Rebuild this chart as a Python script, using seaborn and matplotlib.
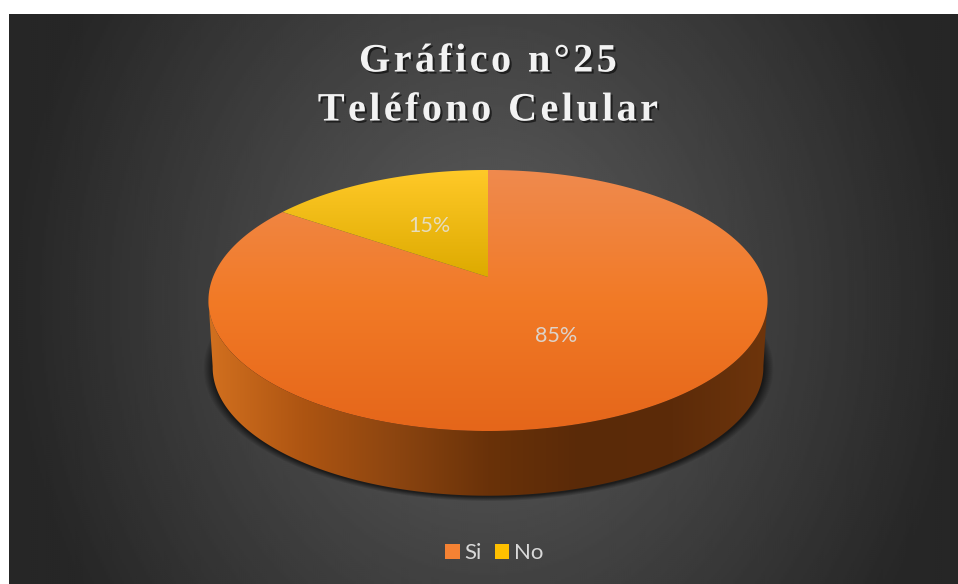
import numpy as np
import matplotlib
matplotlib.use('Agg')
import matplotlib.pyplot as plt
import matplotlib.patheffects as pe
from matplotlib.colors import LinearSegmentedColormap
from matplotlib.patches import Patch, Polygon
import seaborn as sns

# datos
categorias = ['Si', 'No']
porcentajes = [84.6, 15.4]
titulo = ['Gráfico n°25', 'Teléfono Celular']

sns.set_theme(style='dark')
plt.rcParams['font.family'] = ['Lato', 'DejaVu Sans']

W, H = 958, 584
colores = sns.color_palette(['#F58233', '#FFC000'])

fig = plt.figure(figsize=(W / 100, H / 100), dpi=100, facecolor='white')
ax = fig.add_axes([0, 0, 1, 1])

wedges, _, autotexts = ax.pie(porcentajes, colors=colores, startangle=90, counterclock=False,
                              autopct='%.0f%%', pctdistance=0.49)
ax.set_aspect('auto')
ax.set_xlim(0, W)
ax.set_ylim(H, 0)
ax.axis('off')


# circulo unitario -> elipse en perspectiva
def proyectar(x, y, caida=0.0, escala=1.0):
    w = 1 + 0.18 * y
    return 488 + 275 * escala * x / w, 277 + caida - 126.3 * escala * y / w


def borde(t1, t2, caida=0.0, escala=1.0):
    t = np.radians(np.linspace(t1, t2, 240))
    return np.column_stack(proyectar(np.cos(t), np.sin(t), caida, escala))


def gradiente(puntos, cmap, extent, vertical=True):
    g = np.linspace(0, 1, 256)
    g = g[:, None] if vertical else g[None, :]
    im = ax.imshow(g, cmap=cmap, extent=extent, aspect='auto', zorder=3, interpolation='bilinear')
    clip = Polygon(puntos, closed=True, transform=ax.transData)
    im.set_clip_path(clip)
    return im


# fondo radial
xx, yy = np.meshgrid(np.linspace(9, W, 475), np.linspace(14, H, 285))
r = np.sqrt((xx - 488) ** 2 + ((yy - 300) * 0.85) ** 2) / 480
fondo = np.clip(0x5e - 56 * r, 0x26, 255)
ax.imshow(fondo, cmap='gray', vmin=0, vmax=255, extent=(9, W, H, 14), aspect='auto',
          zorder=0, interpolation='bilinear')

# sombra bajo la pared
xx, yy = np.meshgrid(np.arange(180, 800), np.arange(300, 530))
n = np.sqrt(((xx - 488) / 277.0) ** 2 + ((yy - 368) / 129.0) ** 2)
sombra = np.zeros(xx.shape + (4,))
sombra[..., 3] = np.clip((1.03 - n) / 0.035, 0, 1) * 0.6
ax.imshow(sombra, extent=(180, 800, 530, 300), aspect='auto', zorder=1, interpolation='bilinear')

# pared lateral
pared = np.vstack([borde(190, 350), borde(350, 190, caida=67, escala=0.985)])
cmap_pared = LinearSegmentedColormap.from_list(
    'pared', ['#D2701F', '#AE5512', '#8C4510', '#6A3209', '#5A2A08', '#5C2B09', '#6E350C'])
gradiente(pared, cmap_pared, (208, 768, 500, 300), vertical=False)

# cara superior, una cuña por categoria
cmaps = [
    LinearSegmentedColormap.from_list('si', ['#EF8A4E', '#F27A26', '#E5661A']),
    LinearSegmentedColormap.from_list('no', ['#FFC928', '#DDAA00']),
]
extents = [(208, 768, 431, 170), (280, 490, 277, 170)]
for wedge, cmap, ext in zip(wedges, cmaps, extents):
    centro = np.array(proyectar(0.0, 0.0))
    puntos = np.vstack([centro, borde(wedge.theta1, wedge.theta2), centro])
    gradiente(puntos, cmap, ext)
    wedge.remove()

# etiquetas
for txt in autotexts:
    x, y = txt.get_position()
    txt.set_position(proyectar(x, y))
    txt.set_color('#DDD3CA')
    txt.set_fontsize(15.5)
    txt.set_zorder(5)
autotexts[1].set_color('#E6DDBE')

# titulo con espaciado
sombra_txt = [pe.withSimplePatchShadow(offset=(1.5, -1.5), shadow_rgbFace='black', alpha=0.55)]
for linea, ypix in zip(titulo, [62, 111]):
    ax.text(488, ypix, '\u200a'.join(linea), ha='center', va='center', color='#F2F2F2',
            fontsize=29, fontweight='bold', family=['Liberation Serif', 'DejaVu Serif'],
            zorder=6, path_effects=sombra_txt)

# leyenda
handles = [Patch(facecolor=c, edgecolor='none') for c in colores]
ax.legend(handles, categorias, loc='center', bbox_to_anchor=(494 / W, 1 - 553 / H),
          bbox_transform=fig.transFigure, ncol=2, frameon=False, fontsize=16,
          labelcolor='#D9D9D9', handlelength=0.65, handleheight=0.65,
          handletextpad=0.2, columnspacing=0.6)

fig.savefig('out.png', dpi=100, facecolor='white')
